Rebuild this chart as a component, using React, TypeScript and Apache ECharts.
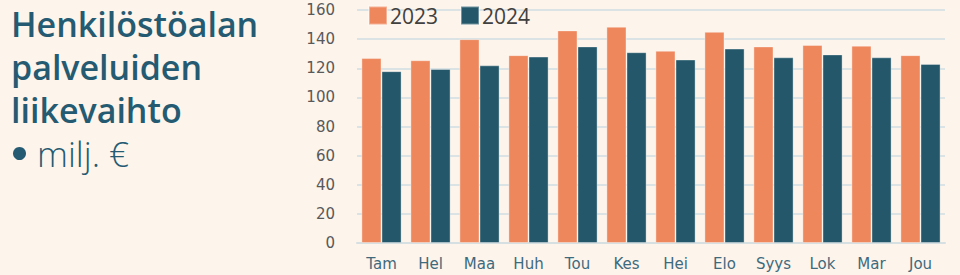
import React, { useEffect, useRef } from "react";
import * as echarts from "echarts";

const categories = ["Tam", "Hel", "Maa", "Huh", "Tou", "Kes", "Hei", "Elo", "Syys", "Lok", "Mar", "Jou"];
const values2023 = [127, 125.5, 140, 129, 146, 148.5, 132, 145, 135, 136, 135.5, 129];
const values2024 = [118, 119.5, 122, 128, 135, 131, 126, 133.5, 127.5, 129.5, 127.5, 123];
const seriesNames = ["2023", "2024"];
const titleLines = ["Henkilöstöalan", "palveluiden", "liikevaihto"];
const subtitle = "milj. €";

const BG = "#FDF4EB";
const ORANGE = "#EE875C";
const TEAL = "#245769";
const TITLE = "#255B72";

export default function App() {
  const ref = useRef<HTMLDivElement>(null);
  useEffect(() => {
    document.body.style.margin = "0";
    document.body.style.background = BG;
    const chart = echarts.init(ref.current!, undefined, { renderer: "svg" });
    chart.setOption({
      animation: false,
      backgroundColor: BG,
      legend: {
        left: 363,
        top: 0,
        itemWidth: 18,
        itemHeight: 18,
        itemGap: 22,
        icon: "rect",
        textStyle: { fontFamily: "Open Sans", fontSize: 21, color: "#404040", padding: [0, 0, 0, -2] },
        data: seriesNames,
      },
      grid: { left: 357, right: 15, top: 10, bottom: 32 },
      xAxis: {
        type: "category",
        data: categories,
        axisLine: { lineStyle: { color: "#D6DFE2", width: 2 } },
        axisTick: { show: false },
        axisLabel: { fontFamily: "DejaVu Sans", fontSize: 15, color: "#3E6A7E", margin: 13 },
      },
      yAxis: {
        type: "value",
        min: 0,
        max: 160,
        interval: 20,
        axisLine: { show: false },
        axisTick: { show: false },
        axisLabel: { fontFamily: "DejaVu Sans", fontSize: 15, color: "#595959", margin: 22 },
        splitLine: { lineStyle: { color: "#DCE3E5", width: 2 } },
      },
      series: [
        {
          name: seriesNames[0],
          type: "bar",
          data: values2023,
          barGap: "0%",
          barCategoryGap: "18%",
          itemStyle: { color: ORANGE, borderColor: "rgba(255,255,255,0.35)", borderWidth: 1 },
        },
        {
          name: seriesNames[1],
          type: "bar",
          data: values2024,
          barGap: "0%",
          barCategoryGap: "18%",
          itemStyle: { color: TEAL, borderColor: "rgba(255,255,255,0.35)", borderWidth: 1 },
        },
      ],
      graphic: [
        ...titleLines.map((t, i) => ({
          type: "text",
          left: 11,
          top: 6 + i * 43,
          style: { text: t, fontFamily: "Open Sans", fontWeight: 600, fontSize: 34, lineHeight: 36, fill: TITLE },
        })),
        {
          type: "circle",
          shape: { cx: 19.5, cy: 153.5, r: 6.5 },
          style: { fill: TITLE },
        },
        {
          type: "text",
          left: 37,
          top: 134,
          style: { text: subtitle, fontFamily: "Open Sans", fontWeight: 300, fontSize: 35, lineHeight: 38, fill: TITLE },
        },
      ],
    });
    return () => chart.dispose();
  }, []);
  return <div ref={ref} style={{ width: 960, height: 275 }} />;
}
